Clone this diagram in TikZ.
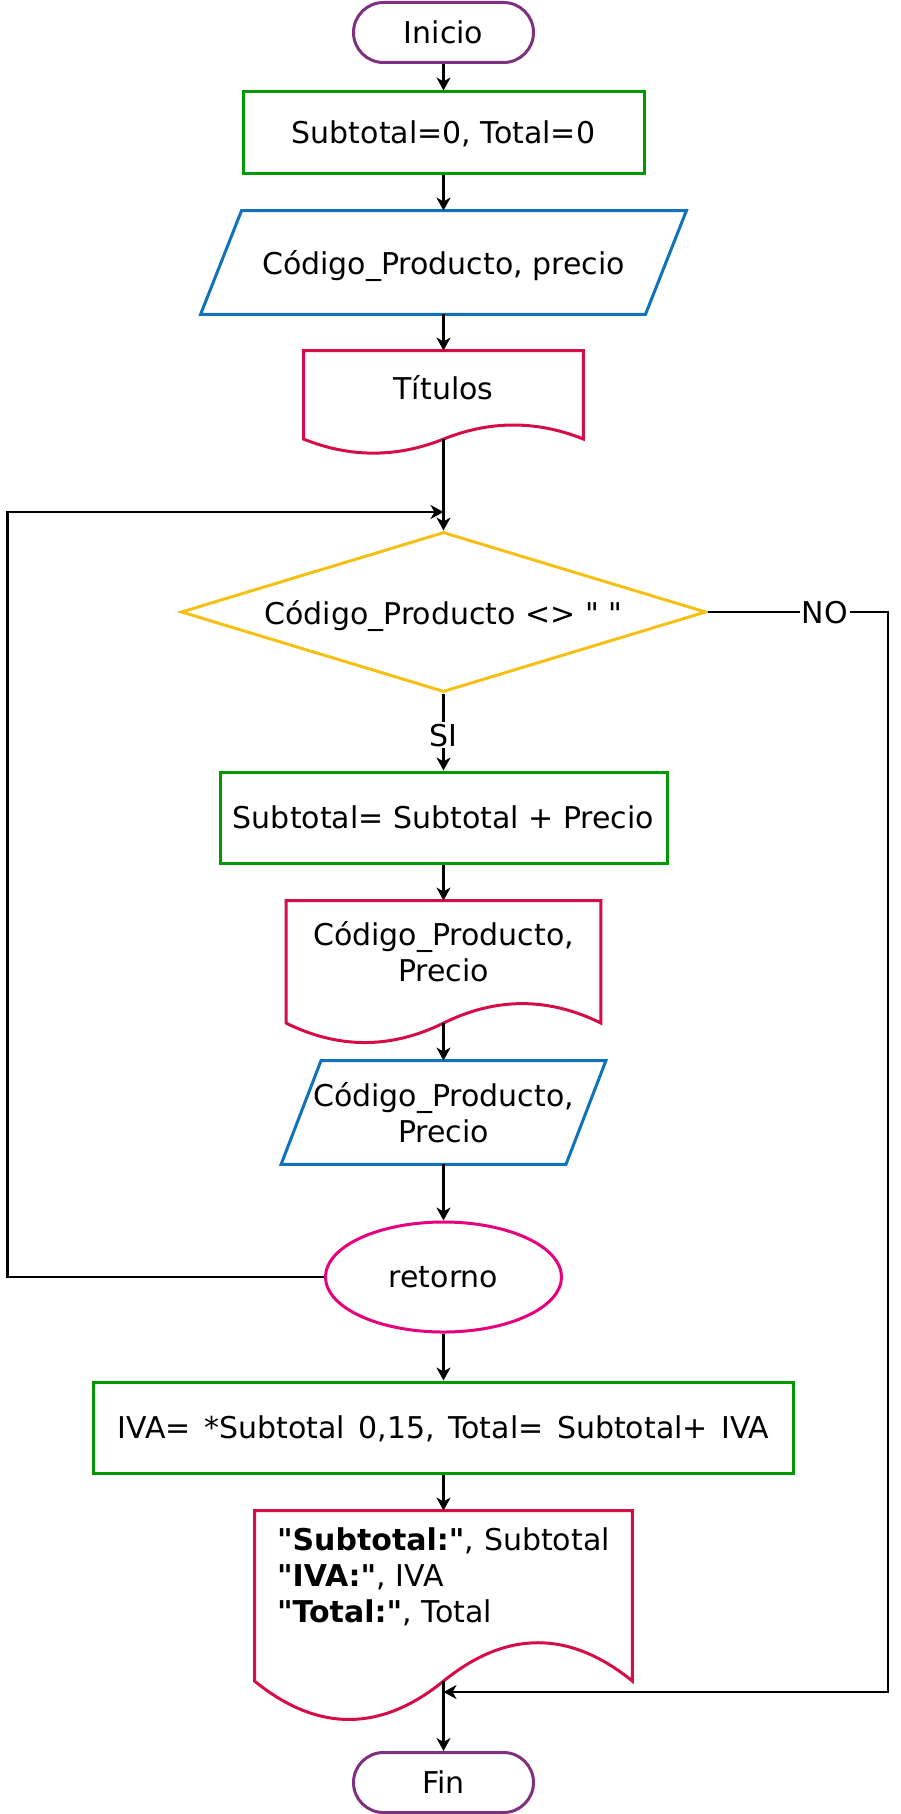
\documentclass[tikz,border=0pt]{standalone}
\usepackage{fontspec}
\newfontfamily\flowfont{DejaVu Sans}
\usetikzlibrary{arrows.meta,shapes.geometric,calc}

\definecolor{termcol}{RGB}{128,48,128}
\definecolor{proccol}{RGB}{0,153,0}
\definecolor{iocol}{RGB}{16,115,186}
\definecolor{doccol}{RGB}{214,12,72}
\definecolor{condcol}{RGB}{245,192,20}
\definecolor{retcol}{RGB}{230,0,126}

% parallelogram round a node: node, slant
\newcommand{\ioline}[2]{%
  \draw[iocol, line width=1.5pt] ($(#1.north west)+(#2,0)$) -- (#1.north east)
    -- ($(#1.south east)-(#2,0)$) -- (#1.south west) -- cycle;}

% document round a node: node, depth of the wave (part of the text height)
\newcommand{\docline}[2]{%
  \draw[doccol, line width=1.5pt] let \p1=(#1.north west), \p2=(#1.south east), \p3=(#1.south),
    \n1={(\y1-\y2)*#2}, \n2={(\x2-\x1)/6} in
    (\x1,\y1) -- (\x2,\y1) -- (\x2,\y2-\n1/2)
    .. controls (\x2-\n2,\y2+0.1*\n1) and (\x3+\n2,\y2+0.1*\n1) .. (\x3,\y2-\n1/2) coordinate (#1-w)
    .. controls (\x3-\n2,\y2-1.1*\n1) and (\x1+\n2,\y2-1.1*\n1) .. (\x1,\y2-\n1/2) -- cycle;}

\begin{document}
\begin{tikzpicture}[x=0.5pt, y=-0.5pt, line width=1.45pt,
    every node/.style={font=\flowfont\fontsize{15pt}{18pt}\selectfont, text depth=0pt},
    >={Stealth[length=6.5pt,width=7pt,inset=2pt]},
    terminal/.style={draw=termcol, line width=1.5pt, rounded corners=15pt, minimum width=90pt, minimum height=30pt},
    process/.style={draw=proccol, line width=1.5pt},
    io/.style={minimum height=50.5pt, inner sep=0pt},
    docbox/.style={inner sep=0pt},
    decision/.style={diamond, draw=condcol, line width=1.5pt, aspect=3.28, inner sep=0pt, minimum width=262.5pt, minimum height=80pt},
    retstyle/.style={ellipse, draw=retcol, line width=1.5pt, minimum width=118pt, minimum height=55pt},
    lbl/.style={fill=white, inner sep=1pt}]
    \useasboundingbox (0,0) rectangle (900,1814);

    % Start and reading
    \node[terminal] (inicio) at (443.5,32.5) {Inicio};
    \node[process, minimum width=200.5pt, minimum height=40.5pt] (init) at (443.5,132.5) {Subtotal=0, Total=0};
    \node[io, minimum width=241.5pt] (read1) at (443.5,262.5) {Código\_Producto, precio};
    \ioline{read1}{41}
    \node[docbox, minimum width=138.5pt, minimum height=35pt] (titulos) at (443.5,387) {Títulos};
    \docline{titulos}{0.4286}

    % Loop body
    \node[decision] (cond) at (443.5,612) {Código\_Producto <> " "};
    \node[process, minimum width=223.5pt, minimum height=45.5pt] (sum) at (443.5,817.5) {Subtotal= Subtotal + Precio};
    \node[docbox, minimum width=156pt, minimum height=49pt, align=center] (doc2) at (443.5,951) {Código\_Producto,\\Precio};
    \docline{doc2}{0.4286}
    \node[io, minimum width=161pt, align=center] (read2) at (443.5,1112.5) {Código\_Producto,\\Precio};
    \ioline{read2}{40}
    \node[retstyle] (ret) at (443.5,1277) {retorno};

    % Results and end
    \node[process, minimum width=350pt, minimum height=45.5pt] (iva) at (443.5,1427.5)
        {\spaceskip=0.45em\relax IVA= *Subtotal 0,15, Total= Subtotal+ IVA};
    \node[docbox, text width=166.5pt, inner xsep=10.5pt, minimum height=62.5pt, text depth=35pt, align=left] (doc3) at (443.5,1574.5)
        {\mbox{\textbf{"Subtotal:"}, Subtotal}\\\mbox{\textbf{"IVA:"}, IVA}\\\mbox{\textbf{"Total:"}, Total}};
    \docline{doc3}{0.6667}
    \node[terminal] (fin) at (443.5,1782.5) {Fin};

    % Connectors
    \coordinate (merge) at (443.5,512);
    \coordinate (loopleft) at (7.5,512);
    \coordinate (noturn) at (888,1692);
    \coordinate (docin) at (443.5,1692);
    \draw[->] (inicio) -- (init);
    \draw[->] (init) -- (read1);
    \draw[->] (read1) -- (titulos);
    \draw[->] (titulos-w) -- (cond);
    \draw[->] (cond) -- node[lbl, pos=0.54] {SI} (sum);
    \draw[->] (sum) -- (doc2);
    \draw[->] (doc2-w) -- (read2);
    \draw[->] (read2) -- (ret);
    \draw[->] (ret) -- (iva);
    \draw[->] (iva) -- (doc3);
    \draw[->] (doc3-w) -- (fin);
    \draw[->] (ret.west) -| (loopleft) -- (merge);
    \draw[->] (cond.east) -| node[lbl, pos=0.325] {NO} (noturn) -- (docin);
\end{tikzpicture}
\end{document}
